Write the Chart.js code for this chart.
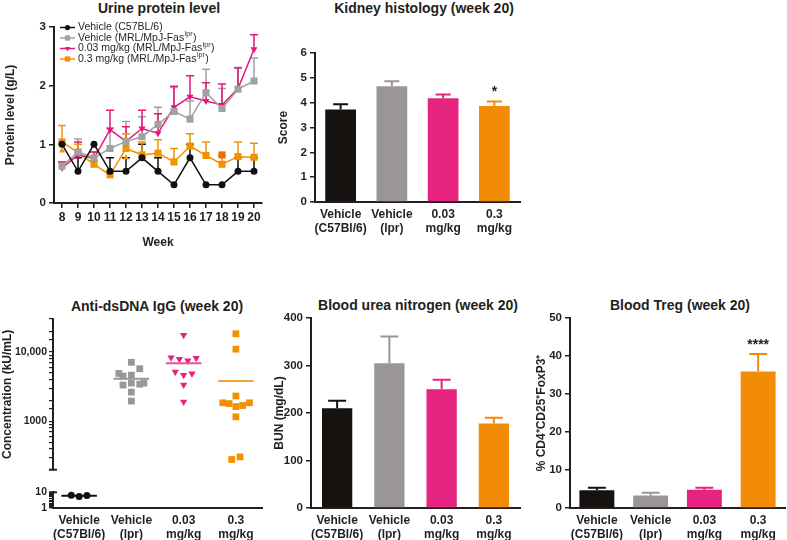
<!DOCTYPE html>
<html>
<head>
<meta charset="utf-8">
<script src="https://cdn.jsdelivr.net/npm/chart.js@4.4.1/dist/chart.umd.min.js"></script>
<style>
  body { margin: 0; background: #fff; }
  #fig { position: relative; width: 787px; height: 540px; overflow: hidden; font-family: Arial, "Liberation Sans", Helvetica, sans-serif; color: #231f20; }
  #fig canvas { position: absolute; }
  .ttl { position: absolute; font-weight: bold; font-size: 14px; white-space: nowrap; transform: translate(-50%, -50%); }
</style>
</head>
<body>
<div id="fig">
  <div class="ttl" style="left:159px;top:8px;">Urine protein level</div>
  <div class="ttl" style="left:424px;top:8px;">Kidney histology (week 20)</div>
  <div class="ttl" style="left:157px;top:306px;">Anti-dsDNA IgG (week 20)</div>
  <div class="ttl" style="left:418px;top:305px;">Blood urea nitrogen (week 20)</div>
  <div class="ttl" style="left:680px;top:305px;">Blood Treg (week 20)</div>

  <canvas id="c-urine" width="270" height="260" style="left:0;top:0;"></canvas>
  <canvas id="c-kidney" width="265" height="245" style="left:270px;top:0;"></canvas>
  <canvas id="c-dna-hi" width="270" height="178" style="left:0;top:300px;"></canvas>
  <canvas id="c-dna-lo" width="270" height="56" style="left:0;top:484px;"></canvas>
  <canvas id="c-bun" width="262" height="240" style="left:270px;top:300px;"></canvas>
  <canvas id="c-treg" width="257" height="240" style="left:530px;top:300px;"></canvas>
</div>

<script>
// ===== 데이터 =====
var WEEKS = ["8", "9", "10", "11", "12", "13", "14", "15", "16", "17", "18", "19", "20"];

// urine protein (g/L), mean + upper SEM
var URINE_B6       = [1.00, 0.54, 1.00, 0.54, 0.54, 0.77, 0.54, 0.31, 0.77, 0.31, 0.31, 0.54, 0.54];
var URINE_B6_SEM   = [0, 0.23, 0, 0.23, 0.23, 0.23, 0.23, 0, 0.23, 0, 0, 0.23, 0.23];
var URINE_VEH      = [0.63, 0.87, 0.77, 0.93, 1.05, 1.13, 1.34, 1.56, 1.43, 1.88, 1.61, 1.94, 2.08];
var URINE_VEH_SEM  = [0.07, 0.22, 0.10, 0.35, 0.34, 0.34, 0.29, 0.41, 0.31, 0.40, 0.34, 0.37, 0.39];
var URINE_LOW      = [0.60, 0.82, 0.76, 1.25, 1.05, 1.27, 1.19, 1.63, 1.81, 1.74, 1.67, 1.95, 2.62];
var URINE_LOW_SEM  = [0.10, 0.22, 0.11, 0.33, 0.25, 0.31, 0.33, 0.36, 0.36, 0.31, 0.36, 0.35, 0.25];
var URINE_HIGH     = [1.04, 0.86, 0.66, 0.48, 0.93, 0.82, 0.85, 0.70, 0.97, 0.81, 0.66, 0.79, 0.78];
var URINE_HIGH_SEM = [0.28, 0.14, 0.06, 0.02, 0.25, 0.22, 0.23, 0.23, 0.21, 0.23, 0.15, 0.25, 0.24];
// stray markers visible in the plot
var EXTRA_WEEKS  = ["8", "12", "18"];
var EXTRA_VALUES = [0.89, 0.77, 0.82];

var GROUPS = [["Vehicle", "(C57Bl/6)"], ["Vehicle", "(lpr)"], ["0.03", "mg/kg"], ["0.3", "mg/kg"]];

var KIDNEY       = [3.72, 4.66, 4.18, 3.87];
var KIDNEY_SEM   = [0.22, 0.20, 0.15, 0.18];
var KIDNEY_STARS = ["", "", "", "*"];

var BUN     = [210, 305, 250, 178];
var BUN_SEM = [16, 56, 20, 12];

var TREG       = [4.7, 3.3, 4.8, 35.9];
var TREG_SEM   = [0.6, 0.7, 0.5, 4.6];
var TREG_STARS = ["", "", "", "****"];

// anti-dsDNA IgG (kU/mL), individual animals + jitter inside the group (category units)
var DNA_B6        = [6.6, 5.4, 6.3];
var DNA_B6_JIT    = [-0.15, 0, 0.15];
var DNA_VEH       = [7110, 5740, 4900, 4500, 4640, 3340, 3560, 3440, 3560, 2640, 1960];
var DNA_VEH_JIT   = [0, 0.16, -0.24, -0.16, 0, -0.16, 0, 0.16, 0.24, 0, 0];
var DNA_LOW       = [17600, 8340, 7910, 7500, 8170, 5160, 4640, 4900, 3370, 1910];
var DNA_LOW_JIT   = [0, -0.24, -0.08, 0.08, 0.24, -0.16, 0, 0.16, 0, 0];
var DNA_HIGH      = [18370, 11000, 2320, 1850, 1800, 1630, 1690, 1850, 1160, 281, 306];
var DNA_HIGH_JIT  = [0, 0, 0, -0.25, -0.13, 0, 0.13, 0.26, 0, -0.08, 0.08];
var DNA_MEANS     = [6.1, 4130, 6890, 3830];

var INK = "#231f20";
var BAR_COLORS = ["#15120f", "#9a9696", "#e6237e", "#f28c06"];
var LINE_COLORS = ["#111111", "#a2a0a0", "#e5177b", "#f39200"];
var FONT = "Arial, 'Liberation Sans', Helvetica, sans-serif";

Chart.defaults.font.family = FONT;
Chart.defaults.color = INK;
Chart.defaults.plugins.legend.display = false;
Chart.defaults.plugins.tooltip.enabled = false;

// ===== 플러그인 =====
var errorBarPlugin = {
  id: "errorBars",
  beforeDatasetsDraw: function (chart) {
    var ctx = chart.ctx, yScale = chart.scales.y;
    chart.data.datasets.forEach(function (ds, i) {
      if (!ds.sem) return;
      var meta = chart.getDatasetMeta(i);
      meta.data.forEach(function (el, j) {
        var err = ds.sem[j];
        if (!err) return;
        var top = yScale.getPixelForValue(ds.data[j] + err);
        ctx.save();
        ctx.strokeStyle = Array.isArray(ds.errColor) ? ds.errColor[j] : ds.errColor;
        ctx.lineWidth = ds.errWidth || 1.5;
        ctx.beginPath();
        ctx.moveTo(el.x, el.y);
        ctx.lineTo(el.x, top);
        ctx.moveTo(el.x - ds.capHalf, top);
        ctx.lineTo(el.x + ds.capHalf, top);
        ctx.stroke();
        ctx.restore();
      });
    });
  }
};

var starPlugin = {
  id: "stars",
  afterDatasetsDraw: function (chart) {
    var ctx = chart.ctx, yScale = chart.scales.y;
    chart.data.datasets.forEach(function (ds, i) {
      if (!ds.stars) return;
      var meta = chart.getDatasetMeta(i);
      meta.data.forEach(function (el, j) {
        if (!ds.stars[j]) return;
        var top = yScale.getPixelForValue(ds.data[j] + (ds.sem ? ds.sem[j] : 0));
        ctx.save();
        ctx.fillStyle = INK;
        ctx.font = "bold 14px " + FONT;
        ctx.textAlign = "center";
        ctx.textBaseline = "bottom";
        ctx.fillText(ds.stars[j], el.x, top - 2);
        ctx.restore();
      });
    });
  }
};

var urineLegend = {
  id: "urineLegend",
  afterDraw: function (chart) {
    var ctx = chart.ctx;
    var x0 = 60, y = 27.5;
    chart.data.datasets.forEach(function (ds) {
      if (!ds.legendText) return;
      ctx.save();
      ctx.strokeStyle = ds.borderColor;
      ctx.fillStyle = ds.pointBackgroundColor;
      ctx.lineWidth = 1.5;
      ctx.beginPath();
      ctx.moveTo(x0, y);
      ctx.lineTo(x0 + 15, y);
      ctx.stroke();
      Chart.helpers.drawPoint(ctx, { pointStyle: ds.pointStyle, rotation: ds.pointRotation || 0, radius: ds.pointRadius * 0.75, borderWidth: 0 }, x0 + 7.5, y);
      ctx.fillStyle = INK;
      ctx.textBaseline = "middle";
      var t = ds.legendText, x = x0 + 18;
      ctx.font = "10.5px " + FONT;
      ctx.fillText(t[0], x, y);
      x += ctx.measureText(t[0]).width;
      if (t[1]) {
        ctx.font = "7px " + FONT;
        ctx.fillText(t[1], x + 0.5, y - 3.5);
        x += ctx.measureText(t[1]).width + 1;
        ctx.font = "10.5px " + FONT;
        ctx.fillText(t[2], x, y);
      }
      ctx.restore();
      y += 10.5;
    });
  }
};

var breakCap = {
  id: "breakCap",
  afterDraw: function (chart, args, opts) {
    var a = chart.chartArea, ctx = chart.ctx;
    var y = opts.edge === "bottom" ? a.bottom : a.top;
    ctx.save();
    ctx.strokeStyle = INK;
    ctx.lineWidth = 2;
    ctx.beginPath();
    ctx.moveTo(a.left - 4, y);
    ctx.lineTo(a.left + 4, y);
    ctx.stroke();
    ctx.restore();
  }
};

// ===== 축 도우미 =====
function yAxis(min, max, step, title, titlePad, width) {
  return {
    min: min, max: max,
    ticks: { stepSize: step, color: INK, font: { size: 11.5, weight: "bold" }, padding: 3 },
    grid: { drawOnChartArea: false, color: INK, lineWidth: 1.5, tickLength: 5 },
    border: { color: INK, width: 2 },
    title: { display: !!title, text: title, color: INK, font: { size: 12, weight: "bold" }, padding: { top: titlePad, bottom: 0 } },
    afterFit: function (s) { s.width = width; }
  };
}
function groupX(height) {
  return {
    ticks: { color: INK, font: { size: 12, weight: "bold" }, padding: 5, maxRotation: 0, autoSkip: false },
    grid: { display: false, drawTicks: false },
    border: { color: INK, width: 2 },
    afterFit: function (s) { s.height = height; }
  };
}
function baseOptions(pad) {
  return { responsive: false, animation: false, devicePixelRatio: 1, layout: { padding: pad } };
}

// ===== Urine protein level =====
function lineSet(values, sem, color, style, radius, rotation, legendText) {
  return {
    data: values, sem: sem, errColor: color, capHalf: 4, errWidth: 1.5,
    borderColor: color, backgroundColor: color, borderWidth: 1.5, tension: 0,
    pointStyle: style, pointRadius: radius, pointRotation: rotation,
    pointBackgroundColor: color, pointBorderWidth: 0, clip: false,
    legendText: legendText
  };
}
var urineOpts = baseOptions({ top: 27, right: 8, left: 0, bottom: 0 });
urineOpts.scales = {
  x: {
    type: "category", offset: true,
    ticks: { color: INK, font: { size: 12, weight: "bold" }, padding: 2, autoSkip: false, maxRotation: 0 },
    grid: { drawOnChartArea: false, color: INK, lineWidth: 1.5, tickLength: 5, offset: false },
    border: { color: INK, width: 2 },
    title: { display: true, text: "Week", color: INK, font: { size: 12, weight: "bold" }, padding: { top: 0, bottom: 10 } },
    afterFit: function (s) { s.height = 57; }
  },
  y: yAxis(0, 3, 1, "Protein level (g/L)", 3, 54)
};
new Chart(document.getElementById("c-urine"), {
  type: "line",
  data: {
    labels: WEEKS,
    datasets: [
      lineSet(URINE_B6, URINE_B6_SEM, LINE_COLORS[0], "circle", 3.5, 0, ["Vehicle (C57BL/6)"]),
      lineSet(URINE_VEH, URINE_VEH_SEM, LINE_COLORS[1], "rect", 5, 0, ["Vehicle (MRL/MpJ-Fas", "lpr", ")"]),
      lineSet(URINE_LOW, URINE_LOW_SEM, LINE_COLORS[2], "triangle", 4, 180, ["0.03 mg/kg (MRL/MpJ-Fas", "lpr", ")"]),
      lineSet(URINE_HIGH, URINE_HIGH_SEM, LINE_COLORS[3], "rect", 5, 0, ["0.3 mg/kg (MRL/MpJ-Fas", "lpr", ")"]),
      {
        data: EXTRA_WEEKS.map(function (w, i) { return { x: w, y: EXTRA_VALUES[i] }; }),
        showLine: false, clip: false,
        pointStyle: ["triangle", "triangle", "rect"], pointRadius: [3.5, 3.5, 5],
        pointBackgroundColor: ["#f39200", "#f39200", "#e86f00"], pointBorderWidth: 0
      }
    ]
  },
  options: urineOpts,
  plugins: [errorBarPlugin, urineLegend]
});

// ===== bar charts =====
function barChart(id, values, sem, stars, capHalf, pct, pad, yOpts) {
  var opts = baseOptions(pad);
  opts.scales = { x: groupX(pad.xHeight), y: yOpts };
  new Chart(document.getElementById(id), {
    type: "bar",
    data: {
      labels: GROUPS,
      datasets: [{
        data: values, sem: sem, stars: stars,
        backgroundColor: BAR_COLORS, errColor: BAR_COLORS, capHalf: capHalf, errWidth: 2,
        categoryPercentage: 1, barPercentage: pct, borderWidth: 0
      }]
    },
    options: opts,
    plugins: [errorBarPlugin, starPlugin]
  });
}
barChart("c-kidney", KIDNEY, KIDNEY_SEM, KIDNEY_STARS, 7.5, 0.6,
  { top: 53, right: 15, left: 0, bottom: 0, xHeight: 43 }, yAxis(0, 6, 1, "Score", 6, 45));
barChart("c-bun", BUN, BUN_SEM, null, 9, 0.58,
  { top: 18, right: 12, left: 0, bottom: 0, xHeight: 32 }, yAxis(0, 400, 100, "BUN (mg/dL)", 2, 41));
barChart("c-treg", TREG, TREG_SEM, TREG_STARS, 9, 0.65,
  { top: 18, right: 2, left: 0, bottom: 0, xHeight: 32 }, yAxis(0, 50, 10, "% CD4\u207ACD25\u207AFoxP3\u207A", 4, 40));

// ===== Anti-dsDNA IgG (broken log axis: two stacked charts) =====
function dots(group, values, jit, color, style, radius, rotation) {
  return {
    type: "scatter",
    data: values.map(function (v, i) { return { x: group + jit[i], y: v }; }),
    pointStyle: style, pointRadius: radius, pointRotation: rotation || 0,
    pointBackgroundColor: color, pointBorderWidth: 0, showLine: false, clip: false
  };
}
function meanLine(group, color) {
  return {
    type: "line",
    data: [{ x: group - 0.34, y: DNA_MEANS[group] }, { x: group + 0.34, y: DNA_MEANS[group] }],
    borderColor: color, borderWidth: 2, pointRadius: 0, clip: false
  };
}
function logY(min, max, labels, title, width) {
  return {
    type: "logarithmic", min: min, max: max,
    ticks: {
      autoSkip: false, color: INK, font: { size: 10.5, weight: "bold" }, padding: 2,
      callback: function (v) { return labels[v] !== undefined ? labels[v] : ""; }
    },
    grid: { drawOnChartArea: false, color: INK, lineWidth: 1.2, tickLength: 4 },
    border: { color: INK, width: 2 },
    title: { display: !!title, text: title, color: INK, font: { size: 12, weight: "bold" }, padding: { top: 0, bottom: 0 } },
    afterFit: function (s) { s.width = width; }
  };
}
var catX = { type: "linear", min: -0.5, max: 3.5, display: false };

var hiOpts = baseOptions({ top: 19, right: 8, left: 0, bottom: 0 });
hiOpts.scales = { x: catX, y: logY(200, 30000, { 1000: "1000", 10000: "10,000" }, "Concentration (kU/mL)", 53) };
hiOpts.plugins = { breakCap: { edge: "bottom" } };
new Chart(document.getElementById("c-dna-hi"), {
  type: "scatter",
  data: {
    datasets: [
      meanLine(1, "#9a9696"),
      meanLine(2, "#ec4f98"),
      meanLine(3, "#f5a13a"),
      dots(1, DNA_VEH, DNA_VEH_JIT, "#9a9696", "rect", 4.8),
      dots(2, DNA_LOW, DNA_LOW_JIT, "#e6237e", "triangle", 4.2, 180),
      dots(3, DNA_HIGH, DNA_HIGH_JIT, "#f39200", "rect", 4.8)
    ]
  },
  options: hiOpts,
  plugins: [breakCap]
});

var loOpts = baseOptions({ top: 4, right: 8, left: 0, bottom: 0 });
loOpts.scales = {
  x: {
    type: "linear", min: -0.5, max: 3.5,
    afterBuildTicks: function (s) { s.ticks = [0, 1, 2, 3].map(function (v) { return { value: v }; }); },
    ticks: { color: INK, font: { size: 12, weight: "bold" }, padding: 5, maxRotation: 0, autoSkip: false,
      callback: function (v) { return GROUPS[v]; } },
    grid: { display: false, drawTicks: false },
    border: { color: INK, width: 2 },
    afterFit: function (s) { s.height = 32; }
  },
  y: logY(1, 10, { 1: "1", 10: "10" }, "", 53)
};
loOpts.plugins = { breakCap: { edge: "top" } };
new Chart(document.getElementById("c-dna-lo"), {
  type: "scatter",
  data: {
    datasets: [
      meanLine(0, "#111111"),
      dots(0, DNA_B6, DNA_B6_JIT, "#111111", "circle", 3.5)
    ]
  },
  options: loOpts,
  plugins: [breakCap]
});
</script>
</body>
</html>
